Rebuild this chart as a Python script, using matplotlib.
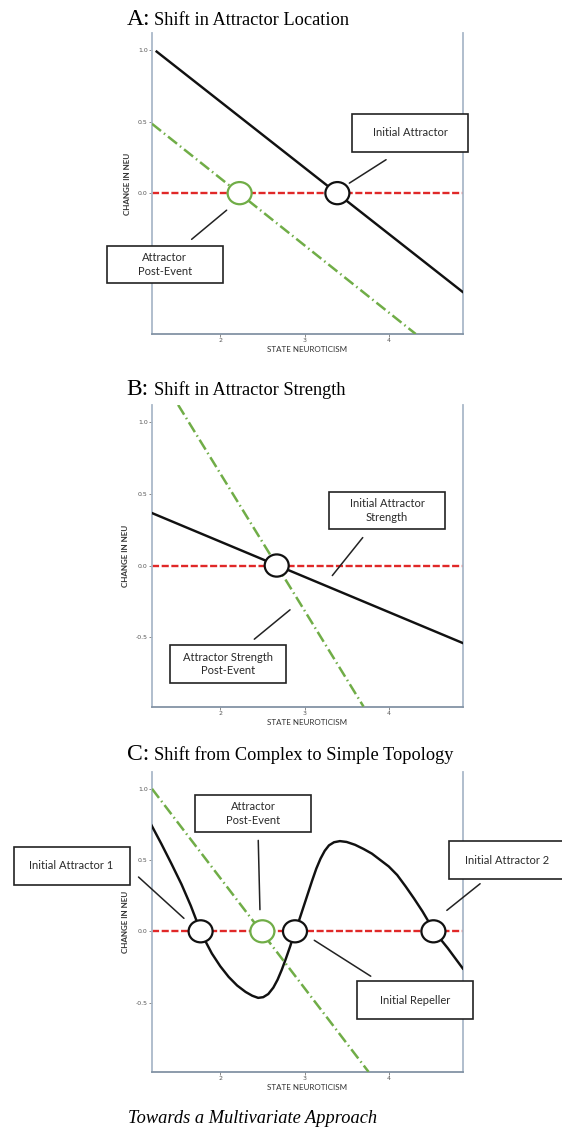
import matplotlib.pyplot as plt
from matplotlib.patches import Ellipse, Rectangle

# ---- data (x = state neuroticism, y = change in NEU) ----
x_ticks = [2, 3, 4]

# A: shift in attractor location
a_initial_x = [1.245, 4.875]
a_initial_y = [0.99, -0.69]
a_post_x = [1.19, 4.32]
a_post_y = [0.485, -0.985]
a_initial_attractor = [3.39]
a_post_attractor = [2.23]

# B: shift in attractor strength
b_initial_x = [1.19, 4.875]
b_initial_y = [0.366, -0.54]
b_post_x = [1.50, 3.70]
b_post_y = [1.121, -0.984]
b_initial_attractor = [2.67]

# C: complex -> simple topology
c_initial_x = [1.185, 1.30, 1.42, 1.54, 1.65, 1.767, 1.82, 1.90, 2.00, 2.10,
               2.20, 2.30, 2.38, 2.45, 2.51, 2.57, 2.63, 2.68, 2.73, 2.78,
               2.83, 2.887, 2.94, 2.99, 3.04, 3.09, 3.14, 3.19, 3.24, 3.29,
               3.35, 3.42, 3.50, 3.60, 3.70, 3.80, 3.90, 4.00, 4.10, 4.20,
               4.30, 4.40, 4.47, 4.53, 4.60, 4.70, 4.80, 4.879]
c_initial_y = [0.743, 0.615, 0.475, 0.33, 0.18, 0.0, -0.065, -0.155, -0.245, -0.32,
               -0.38, -0.425, -0.452, -0.467, -0.462, -0.44, -0.395, -0.34, -0.27, -0.19,
               -0.105, 0.0, 0.085, 0.175, 0.265, 0.355, 0.44, 0.51, 0.565, 0.603,
               0.625, 0.633, 0.627, 0.607, 0.578, 0.545, 0.50, 0.455, 0.395, 0.315,
               0.23, 0.14, 0.07, 0.0, -0.045, -0.118, -0.198, -0.261]
c_post_x = [1.19, 3.76]
c_post_y = [1.0, -0.986]
c_initial_points = [1.767, 2.887, 4.530]
c_post_attractor = [2.50]

# ---- styles ----
BLACK = '#111111'
GREEN = '#70ad47'
RED = '#e02828'
SIDE = '#aab9c9'
BOTTOM = '#8393a5'
SERIF = 'Liberation Serif'
SANS = 'Lato'
BOX_W, BOX_H = 1.377, 0.262
XLIM = (1.19, 4.875)
YLIM = (-0.985, 1.12)

fig = plt.figure(figsize=(5.62, 11.33), dpi=100)


def make_axes(bottom_px, height_px, yticks):
    ax = fig.add_axes([152 / 562, 1 - bottom_px / 1133, 310.5 / 562, height_px / 1133])
    ax.set_xlim(*XLIM)
    ax.set_ylim(*YLIM)
    ax.spines['top'].set_visible(False)
    for s in ('left', 'right'):
        ax.spines[s].set_color(SIDE)
        ax.spines[s].set_linewidth(1.3)
    ax.spines['bottom'].set_color(BOTTOM)
    ax.spines['bottom'].set_linewidth(1.3)
    ax.set_xticks(x_ticks)
    ax.set_yticks(yticks)
    ax.set_yticklabels([f'{t:.1f}' for t in yticks])
    ax.tick_params(length=2, width=0.6, color='#777777', labelsize=4.5,
                   labelcolor='#555555', pad=1)
    ax.set_xlabel('STATE NEUROTICISM', fontsize=5.8, color='#333333',
                  family=SANS, labelpad=2)
    ax.set_ylabel('CHANGE IN NEU', fontsize=5.8, color='#333333',
                  family=SANS, fontweight='bold', labelpad=5)
    ax.axhline(0, color=RED, lw=1.7, dashes=(3.0, 1.1), zorder=2)
    return ax


def green_line(ax, xs, ys):
    ax.plot(xs, ys, color=GREEN, lw=1.8, dashes=(4.6, 1.5, 0.6, 1.5), zorder=3)


def black_line(ax, xs, ys):
    ax.plot(xs, ys, color=BLACK, lw=1.75, zorder=3, solid_joinstyle='round')


def rings(ax, xs, edge):
    for x in xs:
        ax.add_patch(Ellipse((x, 0), 0.285, 0.155, facecolor='white',
                             edgecolor=edge, lw=1.6, zorder=5))


def box(ax, cx, cy, text):
    ax.add_patch(Rectangle((cx - BOX_W / 2, cy - BOX_H / 2), BOX_W, BOX_H,
                           facecolor='white', edgecolor='#222222', lw=1.2,
                           zorder=6, clip_on=False))
    ax.text(cx, cy, text, ha='center', va='center', fontsize=8, color='#2a2a2a',
            family=SANS, linespacing=1.3, zorder=7, clip_on=False)


def leader(ax, start, end):
    ax.annotate('', xy=end, xytext=start, annotation_clip=False,
                arrowprops=dict(arrowstyle='-', lw=1.1, color='#222222',
                                shrinkA=0, shrinkB=0))


def title(y_px, letter, rest):
    y = 1 - y_px / 1133
    fig.text(126.5 / 562, y, letter, fontsize=17, family=SERIF, va='baseline')
    fig.text(154 / 562, y, rest, fontsize=13.2, family=SERIF, va='baseline')


# ---- panel A ----
title(25, 'A:', 'Shift in Attractor Location')
ax = make_axes(334, 301, [0.0, 0.5, 1.0])
black_line(ax, a_initial_x, a_initial_y)
green_line(ax, a_post_x, a_post_y)
rings(ax, a_initial_attractor, BLACK)
rings(ax, a_post_attractor, GREEN)
box(ax, 4.257, 0.422, 'Initial Attractor')
leader(ax, (3.968, 0.234), (3.532, 0.070))
box(ax, 1.343, -0.498, 'Attractor\nPost-Event')
leader(ax, (1.660, -0.323), (2.076, -0.119))

# ---- panel B ----
title(395, 'B:', 'Shift in Attractor Strength')
ax = make_axes(706.7, 301.7, [-0.5, 0.0, 0.5, 1.0])
black_line(ax, b_initial_x, b_initial_y)
green_line(ax, b_post_x, b_post_y)
rings(ax, b_initial_attractor, BLACK)
box(ax, 3.98, 0.383, 'Initial Attractor\nStrength')
leader(ax, (3.691, 0.195), (3.330, -0.070))
box(ax, 2.088, -0.687, 'Attractor Strength\nPost-Event')
leader(ax, (2.404, -0.514), (2.828, -0.309))

# ---- panel C ----
title(759.5, 'C:', 'Shift from Complex to Simple Topology')
ax = make_axes(1071.7, 300, [-0.5, 0.0, 0.5, 1.0])
black_line(ax, c_initial_x, c_initial_y)
green_line(ax, c_post_x, c_post_y)
rings(ax, c_initial_points, BLACK)
rings(ax, c_post_attractor, GREEN)
box(ax, 2.39, 0.827, 'Attractor\nPost-Event')
leader(ax, (2.451, 0.638), (2.471, 0.152))
box(ax, 0.235, 0.459, 'Initial Attractor 1')
leader(ax, (1.030, 0.381), (1.569, 0.091))
box(ax, 5.40, 0.50, 'Initial Attractor 2')
leader(ax, (5.084, 0.334), (4.689, 0.147))
box(ax, 4.316, -0.483, 'Initial Repeller')
leader(ax, (3.116, -0.063), (3.786, -0.315))

fig.text(128 / 562, 1 - 1123.3 / 1133, 'Towards a Multivariate Approach',
         fontsize=13.2, family=SERIF, style='italic', va='baseline')

fig.savefig('out.png', dpi=100)
